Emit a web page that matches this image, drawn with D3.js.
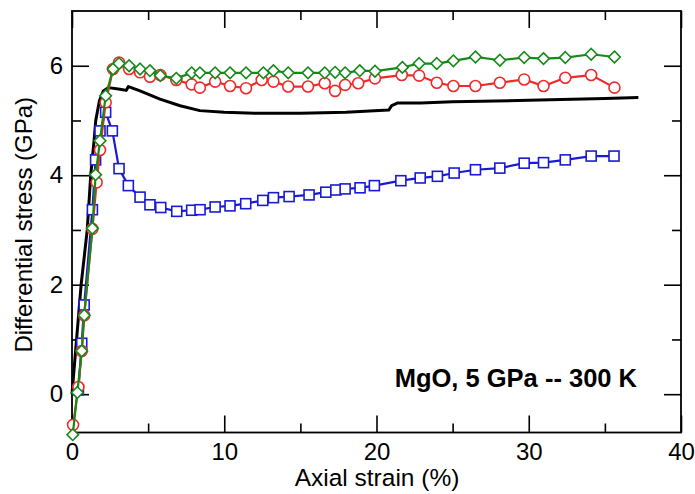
<!DOCTYPE html>
<html>
<head>
<meta charset="utf-8">
<script src="https://cdn.jsdelivr.net/npm/d3@7/dist/d3.min.js"></script>
<style>
  html, body { margin: 0; padding: 0; background: #fff; }
  svg { display: block; font-family: "Liberation Sans", Arial, Helvetica, sans-serif; }
</style>
</head>
<body>
<svg id="chart" width="695" height="494"></svg>
<script>
// ---------------- data ----------------
const xTicksMajor = [0, 10, 20, 30, 40];
const xTicksMinor = [5, 15, 25, 35];
const yTicksMajor = [0, 2, 4, 6];
const yTicksMinor = [1, 3, 5];
const xTitle = "Axial strain (%)";
const yTitle = "Differential stress (GPa)";
const annotation = "MgO, 5 GPa -- 300 K";

// simulation (black line)
const simStrain = [0, 0.6, 1.0, 1.23, 1.45, 1.56, 1.8, 2.06, 2.4, 3.15, 3.57, 3.7, 3.8, 4.47, 5.78, 7.1, 8.4, 10, 12, 15, 18, 20.8, 21.0, 21.4, 22.9, 25, 30, 35, 37.2];
const simStress = [0, 2.0, 3.0, 4.0, 4.63, 5.0, 5.36, 5.54, 5.6, 5.57, 5.55, 5.62, 5.61, 5.54, 5.39, 5.27, 5.18, 5.15, 5.13, 5.13, 5.15, 5.19, 5.27, 5.32, 5.32, 5.34, 5.37, 5.4, 5.42];

// red circles
const redStrain = [0.07, 0.42, 0.64, 0.8, 1.34, 1.62, 1.84, 2.21, 2.7, 3.09, 3.75, 4.47, 5.12, 5.8, 6.85, 7.86, 8.4, 9.4, 10.38, 11.43, 12.46, 13.23, 14.2, 15.5, 16.6, 17.28, 17.94, 18.8, 19.9, 21.66, 22.8, 23.96, 25.05, 26.5, 28.1, 29.7, 30.97, 32.4, 34.1, 35.63];
const redStress = [-0.56, 0.13, 0.79, 1.44, 3.02, 3.87, 4.46, 5.33, 5.94, 6.06, 5.94, 5.88, 5.8, 5.83, 5.74, 5.66, 5.6, 5.71, 5.63, 5.59, 5.74, 5.71, 5.62, 5.62, 5.68, 5.54, 5.65, 5.68, 5.77, 5.83, 5.82, 5.69, 5.63, 5.63, 5.69, 5.75, 5.63, 5.78, 5.83, 5.6];

// green diamonds
const greenStrain = [0.05, 0.35, 0.64, 0.8, 1.34, 1.55, 1.84, 2.21, 2.7, 3.09, 3.75, 4.47, 5.12, 5.8, 6.85, 7.86, 8.4, 9.4, 10.38, 11.43, 12.57, 13.23, 14.2, 15.5, 16.6, 17.28, 17.94, 18.9, 19.9, 21.7, 22.8, 23.96, 25.05, 26.5, 28.1, 29.7, 30.97, 32.4, 34.1, 35.63];
const greenStress = [-0.74, 0.03, 0.79, 1.44, 3.03, 4.01, 4.63, 5.45, 5.94, 6.04, 6.0, 5.94, 5.91, 5.82, 5.77, 5.87, 5.87, 5.87, 5.87, 5.87, 5.87, 5.91, 5.87, 5.87, 5.87, 5.88, 5.87, 5.91, 5.9, 5.97, 6.04, 6.04, 6.09, 6.16, 6.1, 6.15, 6.13, 6.15, 6.21, 6.16];

// blue squares
const blueStrain = [0.42, 0.64, 0.8, 1.34, 1.55, 1.84, 2.21, 2.65, 3.09, 3.7, 4.47, 5.12, 5.83, 6.88, 7.86, 8.41, 9.4, 10.38, 11.41, 12.53, 13.23, 14.26, 15.57, 16.67, 17.33, 17.94, 18.92, 19.86, 21.6, 22.87, 24.0, 25.1, 26.5, 28.1, 29.7, 30.97, 32.4, 34.1, 35.6];
const blueStress = [0.08, 0.93, 1.63, 3.37, 4.28, 4.81, 5.15, 4.81, 4.12, 3.81, 3.6, 3.46, 3.41, 3.34, 3.36, 3.37, 3.42, 3.44, 3.48, 3.54, 3.59, 3.61, 3.64, 3.69, 3.73, 3.75, 3.77, 3.81, 3.9, 3.95, 3.98, 4.04, 4.1, 4.13, 4.22, 4.23, 4.28, 4.35, 4.35];

// ---------------- layout ----------------
const svg = d3.select("#chart");
const L = 72, R = 681, T = 11, B = 432.5;
const x = d3.scaleLinear().domain([0, 40]).range([L, R]);
const y = d3.scaleLinear().domain([-0.7, 7]).range([B, T]);

const zip = (a, b) => a.map((v, i) => [v, b[i]]);
const line = d3.line().x(d => x(d[0])).y(d => y(d[1]));

const majorLen = 17, minorLen = 9;

// axes via d3 axis generators (ticks inward)
function addAxis(gen, transform) {
  const g = svg.append("g").attr("transform", transform).call(gen);
  g.select(".domain").remove();
  g.selectAll("line").attr("stroke", "#000").attr("stroke-width", 1.6);
  return g;
}
// bottom
const bx = addAxis(d3.axisBottom(x).tickValues(xTicksMajor).tickSize(-majorLen).tickPadding(10).tickFormat(d3.format("d")), `translate(0,${B})`);
bx.selectAll("text").attr("font-size", 24).attr("fill", "#000")
  .attr("transform", function() { return null; });
addAxis(d3.axisBottom(x).tickValues(xTicksMinor).tickSize(-minorLen).tickFormat(""), `translate(0,${B})`);
// top
addAxis(d3.axisTop(x).tickValues(xTicksMajor).tickSize(-majorLen).tickFormat(""), `translate(0,${T})`);
addAxis(d3.axisTop(x).tickValues(xTicksMinor).tickSize(-minorLen).tickFormat(""), `translate(0,${T})`);
// left
const ly = addAxis(d3.axisLeft(y).tickValues(yTicksMajor).tickSize(-majorLen).tickPadding(9).tickFormat(d3.format("d")), `translate(${L},0)`);
ly.selectAll("text").attr("font-size", 24).attr("fill", "#000");
addAxis(d3.axisLeft(y).tickValues(yTicksMinor).tickSize(-minorLen).tickFormat(""), `translate(${L},0)`);
// right
addAxis(d3.axisRight(y).tickValues(yTicksMajor).tickSize(-majorLen).tickFormat(""), `translate(${R},0)`);
addAxis(d3.axisRight(y).tickValues(yTicksMinor).tickSize(-minorLen).tickFormat(""), `translate(${R},0)`);

// frame
svg.append("rect").attr("x", L).attr("y", T).attr("width", R - L).attr("height", B - T)
  .attr("fill", "none").attr("stroke", "#000").attr("stroke-width", 1.8);

const data = svg.append("g");

// black simulation line
data.append("path").datum(zip(simStrain, simStress))
  .attr("d", line).attr("fill", "none").attr("stroke", "#000").attr("stroke-width", 3)
  .attr("stroke-linejoin", "round");

const blue = "#1a1ad6", red = "#f02a2a", green = "#17891a";

// blue squares
data.append("path").datum(zip(blueStrain, blueStress))
  .attr("d", line).attr("fill", "none").attr("stroke", blue).attr("stroke-width", 2.2);
data.selectAll(".sq").data(zip(blueStrain, blueStress)).enter().append("rect")
  .attr("x", d => x(d[0]) - 5).attr("y", d => y(d[1]) - 5)
  .attr("width", 10).attr("height", 10)
  .attr("fill", "#fff").attr("stroke", blue).attr("stroke-width", 1.6);

// red circles
data.append("path").datum(zip(redStrain, redStress))
  .attr("d", line).attr("fill", "none").attr("stroke", red).attr("stroke-width", 2.2);
data.selectAll(".ci").data(zip(redStrain, redStress)).enter().append("circle")
  .attr("cx", d => x(d[0])).attr("cy", d => y(d[1])).attr("r", 5.5)
  .attr("fill", "#fff").attr("stroke", red).attr("stroke-width", 1.6);

// green diamonds
data.append("path").datum(zip(greenStrain, greenStress))
  .attr("d", line).attr("fill", "none").attr("stroke", green).attr("stroke-width", 2.2);
const dsz = 5.8;
data.selectAll(".dm").data(zip(greenStrain, greenStress)).enter().append("path")
  .attr("d", d => {
    const cx = x(d[0]), cy = y(d[1]);
    return `M${cx},${cy - dsz}L${cx + dsz},${cy}L${cx},${cy + dsz}L${cx - dsz},${cy}Z`;
  })
  .attr("fill", "#fff").attr("stroke", green).attr("stroke-width", 1.6);

// titles
svg.append("text").attr("x", 377).attr("y", 486).attr("text-anchor", "middle")
  .attr("font-size", 24.5).text(xTitle);
svg.append("text").attr("transform", `translate(32,${(T + B) / 2 + 3}) rotate(-90)`)
  .attr("text-anchor", "middle").attr("font-size", 24).text(yTitle);

// annotation
svg.append("text").attr("x", 637).attr("y", 387).attr("text-anchor", "end")
  .attr("font-size", 25.5).attr("font-weight", "bold").text(annotation);
</script>
</body>
</html>
